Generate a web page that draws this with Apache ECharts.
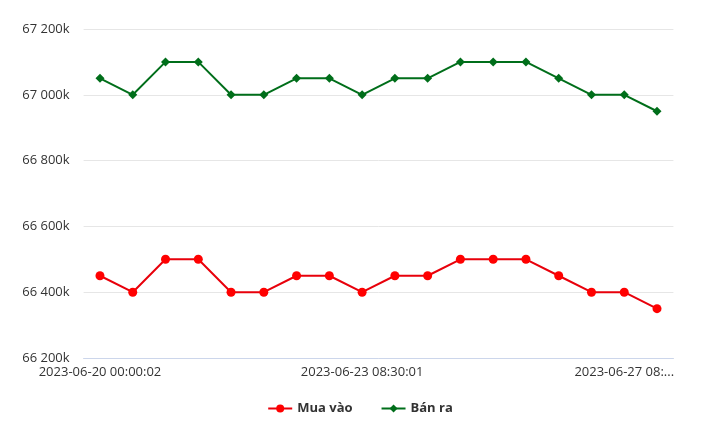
<!DOCTYPE html>
<html><head><meta charset="utf-8">
<script src="https://cdn.jsdelivr.net/npm/echarts@6/dist/echarts.min.js"></script>
<style>html,body{margin:0;padding:0;background:#fff}#c{width:720px;height:434px}</style>
</head><body><div id="c"></div>
<script>
const categories = [
  "2023-06-20 00:00:02","2023-06-20 08:30:01","2023-06-21 08:30:01","2023-06-21 14:00:01",
  "2023-06-22 00:00:02","2023-06-22 08:30:01","2023-06-22 14:00:01","2023-06-23 00:00:02",
  "2023-06-23 08:30:01","2023-06-24 08:30:01","2023-06-25 08:30:01","2023-06-26 00:00:02",
  "2023-06-26 08:30:01","2023-06-26 14:00:01","2023-06-27 00:00:02","2023-06-27 08:00:01",
  "2023-06-27 08:25:01","2023-06-27 14:00:01"
];
const muaVao = [66450,66400,66500,66500,66400,66400,66450,66450,66400,66450,66450,66500,66500,66500,66450,66400,66400,66350];
const banRa  = [67050,67000,67100,67100,67000,67000,67050,67050,67000,67050,67050,67100,67100,67100,67050,67000,67000,66950];
const yTicks = { min: 66200, max: 67200, interval: 200 };

const font = "'Open Sans', 'DejaVu Sans', sans-serif";
const chart = echarts.init(document.getElementById('c'));
chart.setOption({
  animation: false,
  grid: { left: 83.6, right: 46.6, top: 29, bottom: 76 },
  legend: {
    bottom: 14, left: 'center', itemWidth: 24, itemHeight: 10, itemGap: 28,
    textStyle: { fontFamily: font, fontSize: 13, fontWeight: 'bold', color: '#333' },
    data: ['Mua vào', 'Bán ra']
  },
  xAxis: {
    type: 'category', data: categories, boundaryGap: true,
    axisLine: { lineStyle: { color: '#ccd6eb' } },
    axisTick: { show: false },
    axisLabel: {
      interval: 7, margin: 8, color: '#333', fontFamily: font, fontSize: 13,
      formatter: (v, i) => i === 16 ? v.slice(0, 14) + '...' : v
    }
  },
  yAxis: {
    type: 'value', min: yTicks.min, max: yTicks.max, interval: yTicks.interval,
    axisLine: { show: false }, axisTick: { show: false },
    splitLine: { lineStyle: { color: '#e6e6e6' } },
    axisLabel: {
      margin: 14, color: '#333', fontFamily: font, fontSize: 13,
      formatter: v => String(v).replace(/\B(?=(\d{3})+(?!\d))/g, ' ') + 'k'
    }
  },
  series: [
    { name: 'Mua vào', type: 'line', data: muaVao, symbol: 'circle', symbolSize: 9,
      lineStyle: { width: 2, color: '#e8000b' }, itemStyle: { color: '#ff0000' } },
    { name: 'Bán ra', type: 'line', data: banRa, symbol: 'diamond', symbolSize: 9,
      lineStyle: { width: 2, color: '#006e1a' }, itemStyle: { color: '#006e1a' } }
  ]
});
</script></body></html>
